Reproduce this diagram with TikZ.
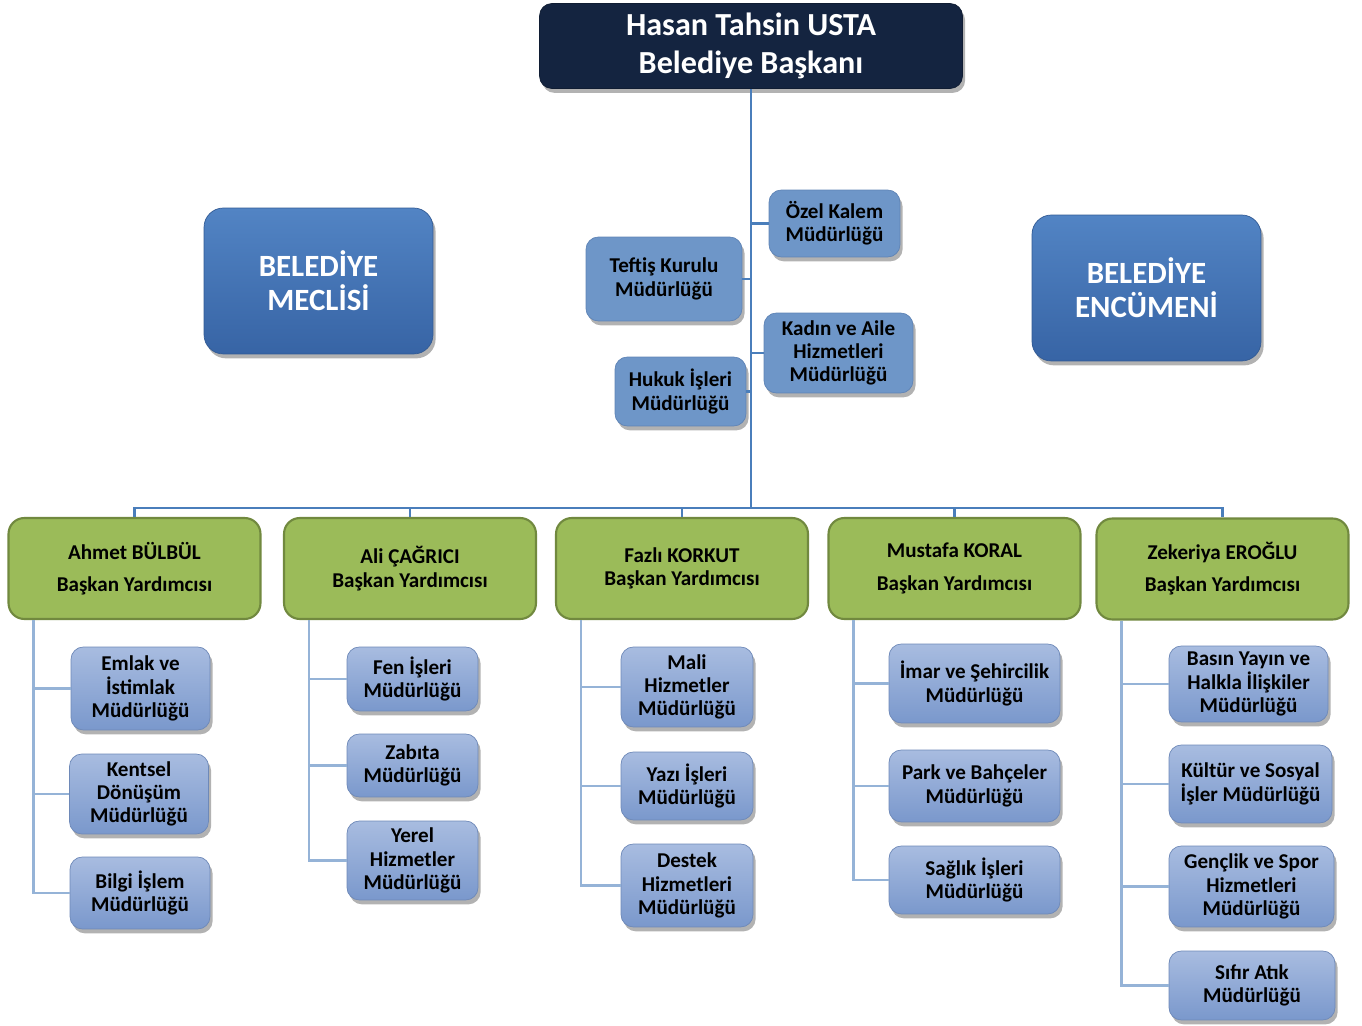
\documentclass[tikz,border=0pt]{standalone}
\usepackage{fontspec}
\setmainfont{Carlito}
\usetikzlibrary{positioning, shadows}

\definecolor{lacivert}{RGB}{20,36,64}
\definecolor{duzmavi}{RGB}{110,150,200}
\definecolor{duzkenar}{RGB}{95,132,182}
\definecolor{meclisust}{RGB}{82,132,196}
\definecolor{meclisalt}{RGB}{55,100,165}
\definecolor{birimust}{RGB}{168,188,224}
\definecolor{birimalt}{RGB}{122,152,204}
\definecolor{yesil}{RGB}{155,187,89}
\definecolor{yesilkenar}{RGB}{113,137,63}
\definecolor{govde}{RGB}{74,126,187}
\definecolor{dal}{RGB}{149,179,215}

\begin{document}
\begin{tikzpicture}[x=0.02cm, y=-0.02cm, font=\bfseries,
    golge/.style={drop shadow={shadow xshift=1.5pt, shadow yshift=-2.5pt, opacity=0.3, fill=black}},
    baskan/.style={rectangle, rounded corners=7pt, fill=lacivert, draw=lacivert!80!black, text=white, golge,
      align=center, inner sep=0pt, font=\bfseries\fontsize{18.3}{22}\selectfont},
    meclis/.style={rectangle, rounded corners=11pt, top color=meclisust, bottom color=meclisalt, draw=meclisalt!90!black,
      text=white, golge, align=center, inner sep=0pt, font=\bfseries\fontsize{17.6}{19.5}\selectfont},
    kalem/.style={rectangle, rounded corners=7pt, fill=duzmavi, draw=duzkenar, golge, align=center, inner sep=0pt,
      font=\bfseries\fontsize{12}{13.3}\selectfont},
    yardimci/.style={rectangle, rounded corners=9pt, fill=yesil, draw=yesilkenar, line width=1.2pt, align=center,
      inner sep=0pt, minimum width=5.04cm, minimum height=2.02cm, font=\bfseries\fontsize{12}{13.3}\selectfont},
    mudurluk/.style={rectangle, rounded corners=7pt, top color=birimust, bottom color=birimalt, draw=birimalt!90!black,
      golge, align=center, inner sep=0pt, font=\bfseries\fontsize{12}{13.3}\selectfont},
    govdecizgi/.style={draw=govde, line width=1.6pt},
    dalcizgi/.style={draw=dal, line width=1.6pt}]
  \useasboundingbox (0,0) rectangle (1362,1026);

  % baskan ve kurullar
  \node[baskan, minimum width=8.46cm, minimum height=1.7cm] (bsk) at (751,46) {Hasan Tahsin USTA\\Belediye Başkanı};
  \node[meclis, minimum width=4.58cm, minimum height=2.92cm] (meclis) at (318.5,281) {BELEDİYE\\MECLİSİ};
  \node[meclis, minimum width=4.58cm, minimum height=2.92cm] (encumen) at (1146.5,288) {BELEDİYE\\ENCÜMENİ};

  % baskana bagli mudurlukler
  \node[kalem, minimum width=2.62cm, minimum height=1.34cm] (ozel) at (834.5,223.5) {Özel Kalem\\Müdürlüğü};
  \node[kalem, minimum width=3.12cm, minimum height=1.68cm] (teftis) at (664,279) {Teftiş Kurulu\\Müdürlüğü};
  \node[kalem, minimum width=2.98cm, minimum height=1.6cm] (kadin) at (838.5,353) {Kadın ve Aile\\Hizmetleri\\Müdürlüğü};
  \node[kalem, minimum width=2.62cm, minimum height=1.38cm] (hukuk) at (680.5,391.5) {Hukuk İşleri\\Müdürlüğü};

  % baskan yardimcilari
  \node[yardimci] (ahmet) at (134.5,568.5) {Ahmet BÜLBÜL\\[5pt]Başkan Yardımcısı};
  \node[yardimci] (ali) at (410,568.5) {Ali ÇAĞRICI\\Başkan Yardımcısı};
  \node[yardimci] (fazli) at (682,568.5) {Fazlı KORKUT\\Başkan Yardımcısı};
  \node[yardimci] (mustafa) at (954.5,568.5) {Mustafa KORAL\\[5pt]Başkan Yardımcısı};
  \node[yardimci] (zekeriya) at (1222.5,569) {Zekeriya EROĞLU\\[5pt]Başkan Yardımcısı};

  % mudurlukler
  \node[mudurluk, minimum width=2.78cm, minimum height=1.66cm] (emlak) at (140.5,688.5) {Emlak ve\\İstimlak\\Müdürlüğü};
  \node[mudurluk, minimum width=2.78cm, minimum height=1.6cm] (kentsel) at (139,794) {Kentsel\\Dönüşüm\\Müdürlüğü};
  \node[mudurluk, minimum width=2.8cm, minimum height=1.44cm] (bilgi) at (140,893) {Bilgi İşlem\\Müdürlüğü};

  \node[mudurluk, minimum width=2.62cm, minimum height=1.28cm] (fen) at (412.5,679) {Fen İşleri\\Müdürlüğü};
  \node[mudurluk, minimum width=2.62cm, minimum height=1.26cm] (zabita) at (412.5,765.5) {Zabıta\\Müdürlüğü};
  \node[mudurluk, minimum width=2.62cm, minimum height=1.58cm] (yerel) at (412.5,860.5) {Yerel\\Hizmetler\\Müdürlüğü};

  \node[mudurluk, minimum width=2.64cm, minimum height=1.6cm] (mali) at (687,687) {Mali\\Hizmetler\\Müdürlüğü};
  \node[mudurluk, minimum width=2.64cm, minimum height=1.36cm] (yazi) at (687,786) {Yazı İşleri\\Müdürlüğü};
  \node[mudurluk, minimum width=2.64cm, minimum height=1.66cm] (destek) at (687,885.5) {Destek\\Hizmetleri\\Müdürlüğü};

  \node[mudurluk, minimum width=3.42cm, minimum height=1.58cm] (imar) at (974.5,683.5) {İmar ve Şehircilik\\Müdürlüğü};
  \node[mudurluk, minimum width=3.42cm, minimum height=1.44cm] (park) at (974.5,786) {Park ve Bahçeler\\Müdürlüğü};
  \node[mudurluk, minimum width=3.42cm, minimum height=1.36cm] (saglik) at (974.5,880) {Sağlık İşleri\\Müdürlüğü};

  \node[mudurluk, minimum width=3.18cm, minimum height=1.52cm] (basin) at (1248.5,684) {Basın Yayın ve\\Halkla İlişkiler\\Müdürlüğü};
  \node[mudurluk, minimum width=3.26cm, minimum height=1.56cm] (kultur) at (1250.5,784) {Kültür ve Sosyal\\İşler Müdürlüğü};
  \node[mudurluk, minimum width=3.3cm, minimum height=1.62cm] (genclik) at (1251.5,886.5) {Gençlik ve Spor\\Hizmetleri\\Müdürlüğü};
  \node[mudurluk, minimum width=3.32cm, minimum height=1.38cm] (sifir) at (1252,985.5) {Sıfır Atık\\Müdürlüğü};

  % baglantilar
  \coordinate (bus) at (751,508);
  \draw[govdecizgi] (bsk.south) -- (bus);
  \foreach \n in {ahmet, ali, fazli, mustafa, zekeriya}
    \draw[govdecizgi] (bus) -| (\n.north);
  \foreach \n in {ozel, teftis, kadin, hukuk}
    \draw[govdecizgi] (\n) -- (\n -| bus);

  \foreach \y/\m in {ahmet/emlak, ahmet/kentsel, ahmet/bilgi, ali/fen, ali/zabita, ali/yerel,
      fazli/mali, fazli/yazi, fazli/destek, mustafa/imar, mustafa/park, mustafa/saglik,
      zekeriya/basin, zekeriya/kultur, zekeriya/genclik, zekeriya/sifir}
    \draw[dalcizgi] ([xshift=0.52cm]\y.south west) |- (\m.west);
\end{tikzpicture}
\end{document}
